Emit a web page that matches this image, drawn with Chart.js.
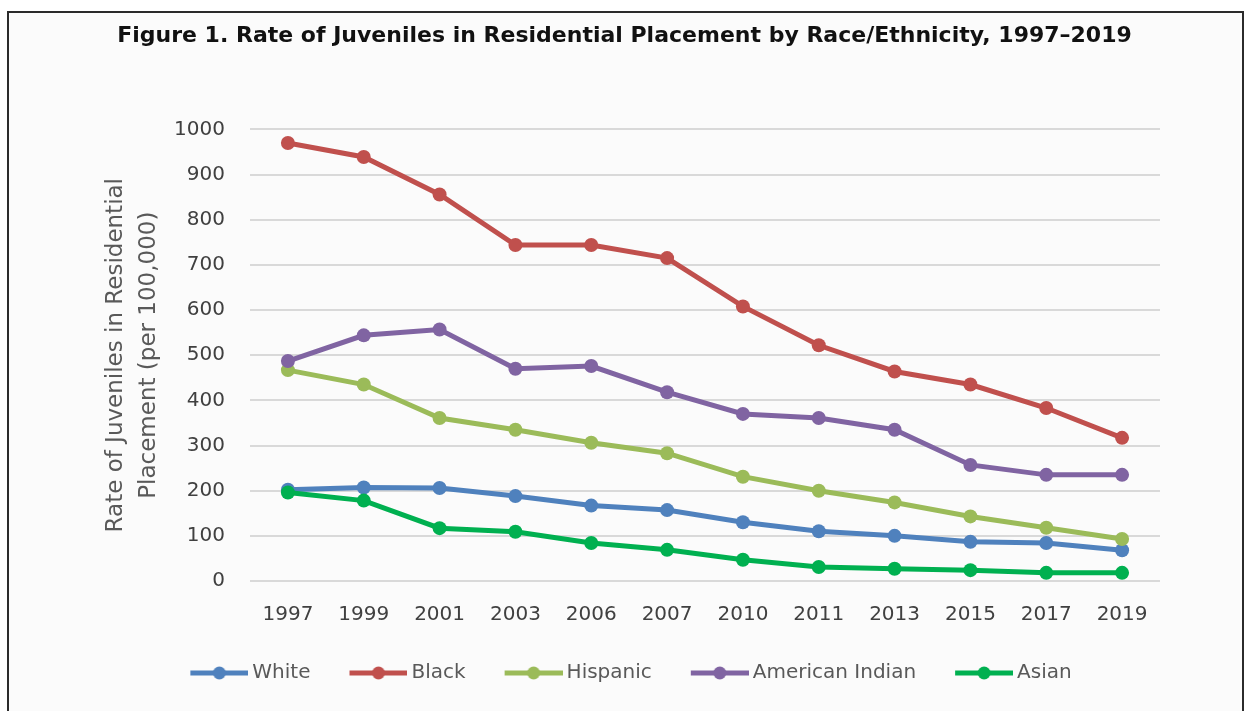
<!DOCTYPE html>
<html>
<head>
<meta charset="utf-8">
<script src="https://cdn.jsdelivr.net/npm/chart.js@4/dist/chart.umd.min.js"></script>
<style>
    body { margin: 0; background: #ffffff; }
    #frame {
        position: absolute; left: 7px; top: 11px; width: 1233px; height: 720px;
        border: 2px solid #2b2b2b; background: #fbfbfb;
    }
    #chart { position: absolute; left: 0; top: 0; }
</style>
</head>
<body>
<div id="frame"></div>
<canvas id="chart" width="1248" height="711"></canvas>
<script>
const years = ["1997", "1999", "2001", "2003", "2006", "2007", "2010", "2011", "2013", "2015", "2017", "2019"];
const white = [202, 207, 206, 188, 167, 157, 130, 110, 100, 87, 84, 68];
const black = [970, 939, 856, 744, 744, 715, 608, 522, 464, 435, 383, 317];
const hispanic = [467, 435, 361, 335, 306, 283, 231, 200, 174, 143, 118, 93];
const americanIndian = [487, 544, 557, 470, 476, 418, 370, 361, 335, 257, 235, 235];
const asian = [196, 178, 117, 109, 84, 69, 47, 31, 27, 24, 18, 18];
const yTicks = [0, 100, 200, 300, 400, 500, 600, 700, 800, 900, 1000];

const series = [
    {label: "White", data: white, color: "#4f81bd"},
    {label: "Black", data: black, color: "#c0504d"},
    {label: "Hispanic", data: hispanic, color: "#9bbb59"},
    {label: "American Indian", data: americanIndian, color: "#8064a2"},
    {label: "Asian", data: asian, color: "#00b050"},
];

// legend icon: line with a dot in the middle
function legendIcon(color) {
    const c = document.createElement("canvas");
    c.width = 77;
    c.height = 20;
    const ctx = c.getContext("2d");
    ctx.strokeStyle = color;
    ctx.lineWidth = 5;
    ctx.beginPath();
    ctx.moveTo(19, 10);
    ctx.lineTo(77, 10);
    ctx.stroke();
    ctx.fillStyle = color;
    ctx.beginPath();
    ctx.arc(48, 10, 6.5, 0, Math.PI * 2);
    ctx.fill();
    return c;
}

const ctx = document.getElementById("chart").getContext("2d");
new Chart(ctx, {
    type: "line",
    data: {
        labels: years,
        datasets: series.map((s, i) => ({
            label: s.label,
            data: s.data,
            borderColor: s.color,
            backgroundColor: s.color,
            borderWidth: 5,
            pointRadius: 7,
            pointHoverRadius: 7,
            pointBorderWidth: 0,
            tension: 0,
            order: series.length - i,
        })),
    },
    options: {
        responsive: false,
        devicePixelRatio: 1,
        animation: false,
        layout: {padding: {left: 1, right: 0, top: 0, bottom: 18}},
        plugins: {
            tooltip: {enabled: false},
            title: {
                display: true,
                text: "Figure 1. Rate of Juveniles in Residential Placement by Race/Ethnicity, 1997\u20132019",
                color: "#111111",
                font: {family: "DejaVu Sans", size: 22, weight: "bold"},
                padding: {top: 23, bottom: 80},
            },
            legend: {
                position: "bottom",
                labels: {
                    usePointStyle: true,
                    pointStyleWidth: 65,
                    padding: 26,
                    color: "#595959",
                    font: {family: "DejaVu Sans", size: 20},
                    generateLabels: (chart) => chart.data.datasets.map((ds, i) => ({
                        text: ds.label,
                        fillStyle: ds.borderColor,
                        strokeStyle: ds.borderColor,
                        lineWidth: 0,
                        pointStyle: legendIcon(ds.borderColor),
                        fontColor: "#595959",
                        hidden: false,
                        datasetIndex: i,
                    })),
                },
            },
        },
        scales: {
            x: {
                offset: true,
                grid: {display: false},
                border: {display: false},
                ticks: {
                    color: "#404040",
                    font: {family: "DejaVu Sans", size: 20},
                    padding: 14,
                    maxRotation: 0,
                },
                afterFit: (scale) => { scale.height = 56; },
            },
            y: {
                min: 0,
                max: 1000,
                border: {display: false},
                grid: {color: "#d9d9d9", lineWidth: 2, drawTicks: false},
                afterBuildTicks: (scale) => { scale.ticks = yTicks.map((v) => ({value: v})); },
                ticks: {
                    color: "#404040",
                    font: {family: "DejaVu Sans", size: 20},
                    padding: 25,
                    callback: (v) => String(v),
                },
                title: {
                    display: true,
                    text: ["Rate of Juveniles in Residential", "Placement (per 100,000)"],
                    color: "#595959",
                    font: {family: "DejaVu Sans", size: 23, lineHeight: 1.45},
                    padding: {top: 98, bottom: 0},
                },
                afterFit: (scale) => { scale.width = 249; },
            },
            yRight: {
                position: "right",
                display: true,
                grid: {display: false},
                border: {display: false},
                ticks: {display: false},
                afterFit: (scale) => { scale.width = 88; },
            },
        },
    },
});
</script>
</body>
</html>
